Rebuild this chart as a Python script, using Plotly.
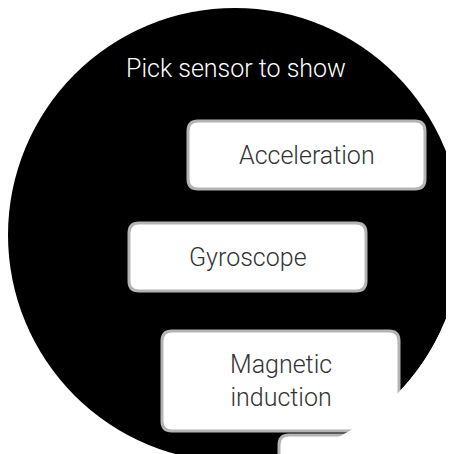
import math
import plotly.graph_objects as go

title_text = "Pick sensor to show"
button_labels = ["Acceleration", "Gyroscope", "Magnetic<br>induction", ""]
button_left = [180, 121, 154, 271]
button_top = [113, 215, 323, 427]
button_width = [237, 237, 237, 237]
button_height = [68, 68, 100, 68]

SIZE = 454
R = SIZE / 2


def rounded_rect(x0, y0, x1, y1, r):
    return (f"M {x0 + r},{y0} L {x1 - r},{y0} Q {x1},{y0} {x1},{y0 + r} "
            f"L {x1},{y1 - r} Q {x1},{y1} {x1 - r},{y1} L {x0 + r},{y1} "
            f"Q {x0},{y1} {x0},{y1 - r} L {x0},{y0 + r} Q {x0},{y0} {x0 + r},{y0} Z")


fig = go.Figure()
shapes = [dict(type="circle", xref="x", yref="y", x0=0, y0=0, x1=SIZE, y1=SIZE,
               fillcolor="black", line=dict(width=0), layer="below")]
for lab, x, y, w, h in zip(button_labels, button_left, button_top, button_width, button_height):
    shapes.append(dict(type="path", xref="x", yref="y", path=rounded_rect(x, y, x + w, y + h, 10),
                       fillcolor="white", line=dict(color="#b4b4b4", width=3)))
    if lab:
        fig.add_annotation(x=x + w / 2, y=y + h / 2, text=lab, showarrow=False,
                           xref="x", yref="y",
                           font=dict(family="Roboto", size=25, color="#333333", weight=300))

# white mask over the bottom-right corner outside the round screen
pts = []
for i in range(61):
    a = math.radians(90 * i / 60)
    pts.append((R + R * math.cos(a), R + R * math.sin(a)))
mask = "M " + " L ".join(f"{px:.2f},{py:.2f}" for px, py in pts)
mask += f" L {SIZE + 20},{SIZE + 20} L {SIZE + 20},{R} Z"
shapes.append(dict(type="path", xref="x", yref="y", path=mask, fillcolor="white",
                   line=dict(width=0)))

fig.add_annotation(x=228, y=60, text=title_text, showarrow=False, xref="x", yref="y",
                   font=dict(family="Roboto", size=25, color="white", weight=300))

fig.update_layout(width=SIZE, height=SIZE, margin=dict(l=0, r=0, t=0, b=0),
                  paper_bgcolor="white", plot_bgcolor="white", shapes=shapes,
                  xaxis=dict(range=[0, SIZE], visible=False),
                  yaxis=dict(range=[SIZE, 0], visible=False), showlegend=False)
fig.write_html("out.html")
